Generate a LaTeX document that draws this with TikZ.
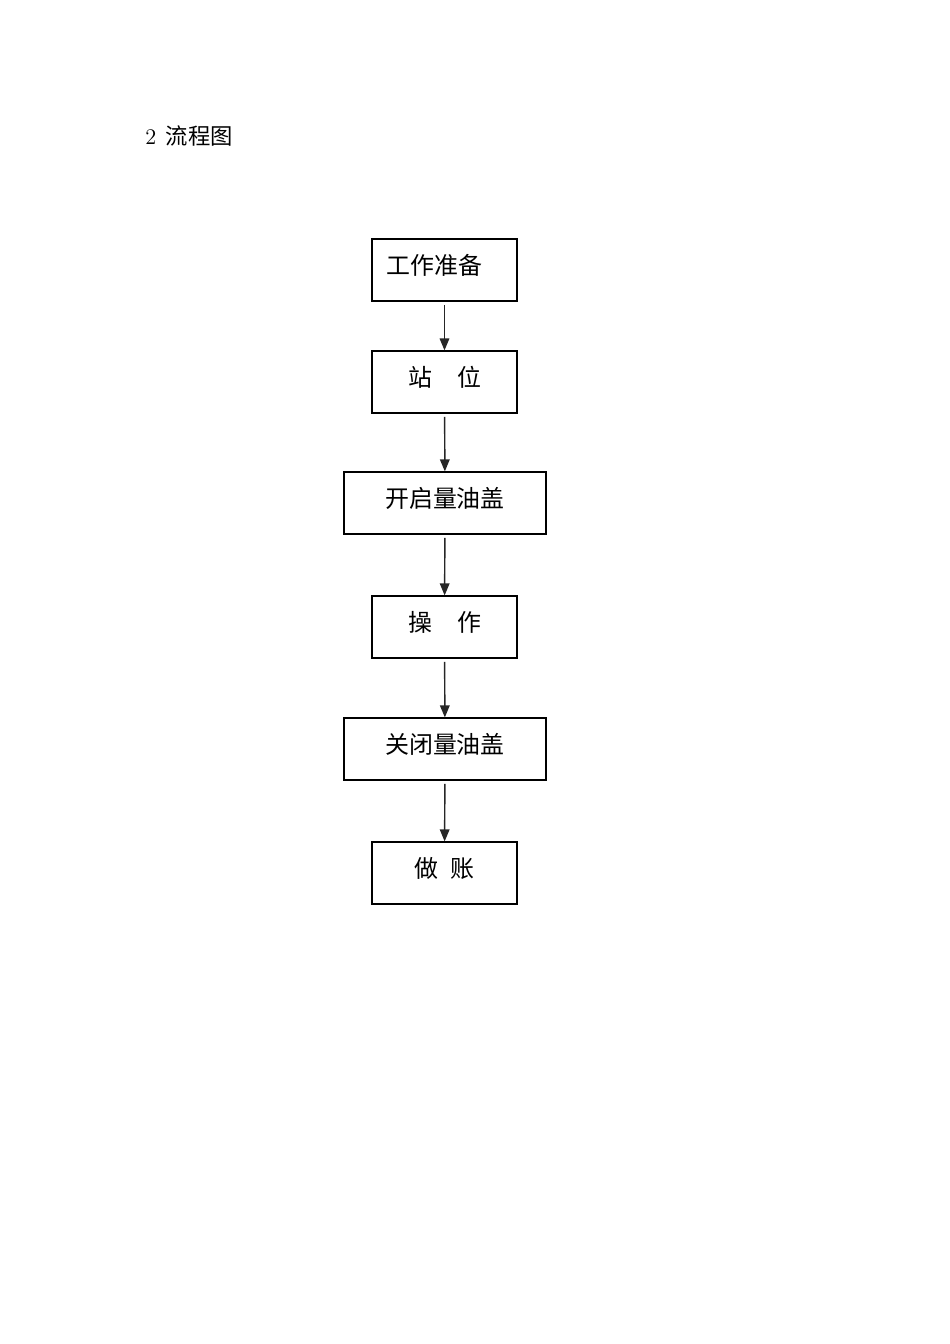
\documentclass[tikz,border=0pt]{standalone}
\usepackage{fontspec}
\newfontfamily\cjk{Noto Sans CJK SC}
\usetikzlibrary{arrows.meta}
\tikzset{
  stepbox/.style={draw, line width=0.8pt, minimum width=90.9pt, minimum height=38.8pt,
    inner sep=0pt, text height=8pt, text depth=2.8pt,
    font=\cjk\fontsize{15pt}{18pt}\selectfont},
  widebox/.style={stepbox, minimum width=126.6pt},
  flow/.style={-{Triangle[length=7.5pt,width=6pt]}, line width=0.9pt, black!85, shorten <=2pt}
}
\begin{document}
\begin{tikzpicture}[x=0.6266pt, y=-0.6266pt]
                    \useasboundingbox (0,0) rectangle (950,1344);
                    % Title
                    \node[anchor=west, inner sep=0pt, font=\fontsize{14pt}{17pt}\selectfont] (title) at (145,136) {2\kern6pt{\cjk 流程图}};

                    % Steps
                    \node[stepbox] (prep) at (444.5,270) {工作准备\kern13pt};
                    \node[stepbox] (stand) at (444.5,382) {站\kern15.7pt 位};
                    \node[widebox] (open) at (445,503) {开启量油盖};
                    \node[stepbox] (work) at (444.5,627) {操\kern15.7pt 作};
                    \node[widebox] (close) at (445,749) {关闭量油盖};
                    \node[stepbox] (book) at (444.5,873) {做\kern7pt 账};

                    % Arrows
                    \draw[flow] (prep) -- (stand);
                    \draw[flow] (stand) -- (open);
                    \draw[flow] (open) -- (work);
                    \draw[flow] (work) -- (close);
                    \draw[flow] (close) -- (book);
                \end{tikzpicture}
\end{document}
